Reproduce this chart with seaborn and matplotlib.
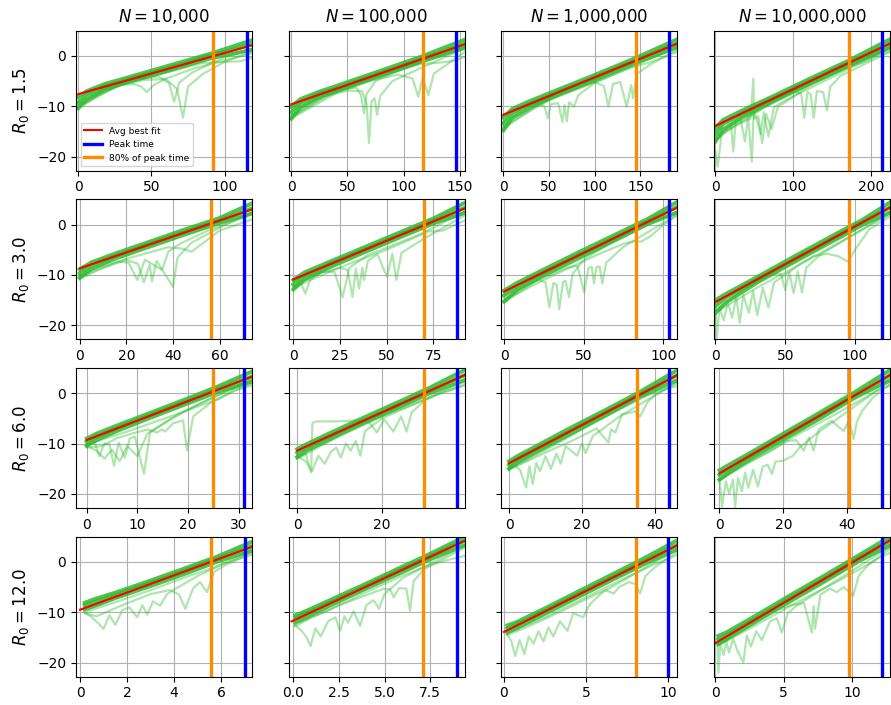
import matplotlib
matplotlib.use("Agg")
import matplotlib.pyplot as plt
import seaborn as sns

# ---------------- labels ----------------
N_LABELS = ["10{,}000", "100{,}000", "1{,}000{,}000", "10{,}000{,}000"]
R0_LABELS = ["1.5", "3.0", "6.0", "12.0"]

# ---------------- axis limits / ticks ----------------
XLIM = [
    [(-1.4, 118.6), (-2.4, 154.4), (-2.2, 190.5), (-1.7, 223.8)],
    [(-1.6, 73.9), (-2.5, 91.8), (-1.7, 108.7), (-0.9, 125.0)],
    [(-2.1, 32.6), (-2.0, 39.5), (-2.1, 46.2), (-1.7, 53.3)],
    [(-0.17, 7.31), (-0.26, 9.4), (-0.16, 10.54), (-0.1, 12.8)],
]
XTICKS = [
    [[0, 50, 100], [0, 50, 100, 150], [0, 50, 100, 150], [0, 100, 200]],
    [[0, 20, 40, 60], [0, 25, 50, 75], [0, 50, 100], [0, 50, 100]],
    [[0, 10, 20, 30], [0, 20], [0, 20, 40], [0, 20, 40]],
    [[0, 2, 4, 6], [0.0, 2.5, 5.0, 7.5], [0, 5, 10], [0, 5, 10]],
]
YLIM = (-22.8, 5.0)
YTICKS = [-20, -10, 0]

# ---------------- peak / 80% of peak times ----------------
PEAK_T = [
    [115.0, 147.0, 181.5, 213.5],
    [70.6, 87.6, 103.7, 119.1],
    [31.1, 37.6, 43.9, 50.7],
    [7.0, 8.97, 10.0, 12.2],
]
P80_T = [
    [91.8, 117.6, 145.1, 170.6],
    [56.4, 69.8, 82.9, 95.4],
    [25.0, 30.0, 35.0, 40.4],
    [5.58, 7.14, 8.0, 9.78],
]

# ---------------- average best-fit lines (end points) ----------------
RED_T = [
    [[0, 118.6], [0, 154.4], [0, 190.5], [0, 223.8]],
    [[0, 73.9], [0, 91.8], [0, 108.7], [0, 125.0]],
    [[0, 32.6], [0, 39.5], [0, 46.2], [0, 53.3]],
    [[0, 7.31], [-0.1, 9.4], [0, 10.54], [0, 12.8]],
]
RED_Y = [
    [[-7.6, 2.1], [-9.62, 2.3], [-11.7, 2.45], [-13.9, 2.45]],
    [[-8.7, 3.0], [-10.9, 3.2], [-13.3, 3.4], [-15.4, 3.4]],
    [[-9.3, 3.3], [-11.4, 3.6], [-13.9, 3.6], [-15.9, 3.6]],
    [[-9.5, 3.0], [-11.8, 4.2], [-13.9, 3.3], [-16.1, 4.3]],
]

# ---------------- simulated log-curves: dense band ----------------
R15_GRID = [
    [0, 6, 18, 35, 60, 90, 118.6],
    [0, 8, 25, 45, 75, 115, 154.4],
    [0, 10, 30, 60, 100, 145, 190.5],
    [0, 10, 35, 70, 120, 170, 223.8],
]
R15_BAND = [
    [[-8.2, -7.0, -5.6, -4.2, -2.1, 0.4, 3.1],
     [-9.3, -7.7, -6.1, -4.6, -2.6, 0.0, 2.3],
     [-10.4, -8.6, -6.7, -5.1, -3.1, -0.5, 1.2]],
    [[-10.1, -8.6, -7.1, -5.6, -3.3, -0.2, 3.2],
     [-11.2, -9.3, -7.6, -6.1, -3.8, -0.7, 2.4],
     [-12.5, -10.2, -8.2, -6.6, -4.3, -1.2, 1.6]],
    [[-12.2, -10.5, -8.9, -6.7, -3.8, -0.4, 3.3],
     [-13.4, -11.3, -9.5, -7.2, -4.3, -0.9, 2.5],
     [-14.8, -12.3, -10.2, -7.7, -4.8, -1.4, 1.7]],
    [[-14.3, -12.7, -10.8, -8.3, -4.6, -1.0, 3.3],
     [-15.5, -13.5, -11.4, -8.8, -5.1, -1.5, 2.5],
     [-17.0, -14.6, -12.1, -9.3, -5.6, -2.0, 1.7]],
]
R30_GRID = [
    [0, 5, 15, 30, 45, 60, 73.9],
    [0, 6, 20, 40, 60, 75, 91.8],
    [0, 8, 25, 50, 75, 90, 108.7],
    [0, 8, 30, 60, 90, 105, 125.0],
]
R30_BAND = [
    [[-8.9, -7.5, -5.8, -3.4, -1.0, 1.3, 4.2],
     [-9.7, -8.0, -6.3, -3.9, -1.5, 0.8, 3.2],
     [-10.6, -8.8, -6.8, -4.4, -2.0, 0.3, 2.2]],
    [[-11.0, -9.5, -7.3, -4.2, -1.1, 1.2, 4.3],
     [-11.9, -10.1, -7.8, -4.7, -1.6, 0.7, 3.3],
     [-12.9, -10.9, -8.4, -5.2, -2.1, 0.2, 2.3]],
    [[-13.1, -11.6, -8.9, -5.0, -1.2, 1.1, 4.5],
     [-14.1, -12.2, -9.5, -5.6, -1.8, 0.6, 3.5],
     [-15.3, -13.0, -10.1, -6.2, -2.3, 0.1, 2.4]],
    [[-15.0, -13.7, -10.4, -5.8, -1.3, 0.9, 4.4],
     [-16.2, -14.4, -10.9, -6.4, -1.9, 0.4, 3.4],
     [-17.6, -15.4, -11.5, -6.9, -2.4, -0.1, 2.4]],
]
R60_GRID = [
    [0, 2, 6, 12, 20, 26, 32.6],
    [0, 2.5, 8, 15, 24, 31, 39.5],
    [0, 2.5, 8, 16, 26, 36, 46.2],
    [0, 3, 10, 20, 32, 42, 53.3],
]
R60_BAND = [
    [[-9.0, -8.0, -6.4, -4.1, -1.0, 1.4, 4.3],
     [-9.6, -8.6, -6.9, -4.6, -1.5, 0.9, 3.3],
     [-10.4, -9.3, -7.5, -5.1, -2.0, 0.3, 2.3]],
    [[-11.1, -10.0, -7.8, -5.1, -1.7, 1.0, 4.6],
     [-11.8, -10.6, -8.4, -5.7, -2.3, 0.4, 3.6],
     [-12.7, -11.3, -9.0, -6.2, -2.8, -0.1, 2.6]],
    [[-13.5, -12.4, -10.3, -7.2, -3.5, 0.3, 4.6],
     [-14.2, -13.0, -10.9, -7.8, -4.0, -0.2, 3.6],
     [-15.0, -13.7, -11.5, -8.4, -4.6, -0.7, 2.6]],
    [[-15.3, -14.2, -11.7, -8.0, -3.6, 0.1, 4.6],
     [-16.2, -15.0, -12.3, -8.6, -4.2, -0.5, 3.6],
     [-17.2, -15.8, -12.9, -9.2, -4.8, -1.0, 2.6]],
]
R120_GRID = [
    [0.2, 0.6, 1.5, 3, 4.5, 5.8, 7.31],
    [0.1, 0.6, 2, 4, 6, 7.5, 9.4],
    [0.2, 0.8, 2.5, 4.5, 6.5, 8.5, 10.54],
    [0.2, 0.8, 3, 5.5, 8, 10.5, 12.8],
]
R120_BAND = [
    [[-8.1, -7.4, -6.1, -3.7, -1.2, 1.0, 4.0],
     [-8.6, -8.0, -6.6, -4.2, -1.7, 0.6, 3.1],
     [-9.4, -8.8, -7.2, -4.8, -2.3, 0.0, 2.2]],
    [[-10.6, -9.9, -7.6, -4.3, -0.9, 1.6, 5.0],
     [-11.1, -10.4, -8.1, -4.8, -1.4, 1.1, 4.2],
     [-12.0, -11.2, -8.7, -5.3, -2.0, 0.5, 3.3]],
    [[-12.6, -11.9, -9.2, -5.9, -2.6, 0.7, 4.3],
     [-13.2, -12.4, -9.7, -6.4, -3.2, 0.1, 3.4],
     [-14.0, -13.1, -10.3, -7.0, -3.7, -0.5, 2.5]],
    [[-14.7, -14.0, -10.6, -6.6, -2.7, 1.3, 5.0],
     [-15.4, -14.6, -11.2, -7.2, -3.3, 0.7, 4.2],
     [-16.3, -15.4, -11.8, -7.8, -3.9, 0.1, 3.3]],
]

# ---------------- simulated log-curves: stray runs (time, value) ----------------
R15_STRAY = [
    [([0, 30, 60, 85, 100, 110, 118.6], [-10.0, -5.6, -3.3, -1.4, -1.2, -1.1, -0.4]),
     ([0, 20, 40, 55, 62, 65.5, 69, 78, 95, 118.6], [-9.6, -6.4, -4.7, -4.1, -5.4, -9.1, -5.3, -3.3, -0.9, 1.5]),
     ([0, 25, 45, 60, 67.5, 71.5, 75, 85, 100, 118.6], [-10.2, -6.1, -4.8, -4.6, -6.6, -12.3, -6.1, -3.6, -1.2, 0.9]),
     ([0, 15, 30, 38, 43, 47, 51, 60, 80, 118.6], [-10.6, -7.6, -5.7, -5.6, -6.1, -7.2, -5.9, -4.5, -2.4, 0.5])],
    [([0, 40, 80, 115, 130, 145, 154.4], [-12.0, -7.0, -4.0, -1.6, -1.4, -1.0, -0.2]),
     ([0, 25, 45, 58, 62, 64.7, 67, 75, 100, 154.4], [-11.8, -8.2, -6.6, -6.3, -7.8, -11.4, -7.6, -5.0, -2.5, 1.8]),
     ([0, 30, 50, 63, 67, 69.2, 71.5, 74, 76.5, 79, 90, 154.4], [-12.2, -8.0, -6.9, -7.0, -9.5, -17.3, -9.0, -8.4, -11.7, -8.0, -5.0, 1.5]),
     ([0, 40, 70, 95, 108, 113, 117, 122, 127, 140, 154.4], [-12.4, -7.4, -5.0, -3.7, -4.5, -8.1, -4.3, -7.8, -3.5, -1.5, 0.8])],
    [([0, 50, 100, 140, 160, 175, 190.5], [-14.0, -8.8, -5.2, -2.3, -1.3, -0.3, 0.8]),
     ([0, 20, 38, 45, 48.5, 52, 60, 64.7, 67, 69.4, 72, 77.3, 82, 100, 190.5],
      [-14.2, -10.3, -9.4, -10.0, -12.4, -9.6, -9.4, -13.1, -9.8, -13.0, -9.2, -10.1, -7.8, -5.4, 1.8]),
     ([0, 40, 80, 100, 110, 115, 120, 128, 135, 140, 142, 146, 160, 190.5],
      [-14.5, -9.4, -6.6, -5.2, -6.0, -10.1, -5.6, -5.2, -10.1, -5.8, -8.4, -3.6, -1.8, 1.2])],
    [([0, 60, 120, 170, 195, 210, 223.8], [-16.5, -10.5, -5.8, -2.3, -1.0, 0.2, 1.0]),
     ([0, 3, 8, 15, 20, 23, 26, 32, 38, 42, 46.7, 49, 52, 58, 62, 68, 75, 90, 223.8],
      [-19, -22, -15.5, -14.5, -13.5, -19, -13.0, -12.5, -17, -12.0, -21, -11.5, -12, -15.5, -11.2, -16, -10.2, -8.8, 1.5]),
     ([0, 15, 30, 45, 48.7, 49.5, 55, 60, 65, 72, 80, 120, 223.8],
      [-17, -14.8, -13.5, -12.5, -4.5, -12.5, -12.0, -17.3, -11.5, -14.5, -10.2, -6.0, 1.8]),
     ([0, 40, 80, 100, 110, 114, 118, 122, 126, 130, 138, 143, 147, 160, 223.8],
      [-16, -12.2, -8.6, -7.0, -7.5, -12.3, -7.2, -7.6, -12.3, -7.0, -7.2, -10.8, -6.2, -4.0, 0.8])],
]
R30_STRAY = [
    [([0, 20, 38, 44, 48, 52, 60, 73.9], [-10.3, -6.8, -4.5, -4.8, -5.4, -4.0, -1.2, 1.0]),
     ([0, 8, 16, 21, 24.7, 28, 35.3, 38, 43, 55, 73.9], [-10.4, -8.5, -7.3, -7.6, -11.0, -7.0, -9.0, -5.4, -3.8, -1.2, 2.0]),
     ([0, 10, 20, 25, 27.5, 30, 31, 33, 40, 42, 48, 60, 73.9],
      [-10.8, -8.6, -7.0, -7.8, -11.5, -8.0, -11.3, -7.2, -12.4, -6.5, -3.6, -0.6, 2.4])],
    [([0, 25, 50, 65, 72, 80, 91.8], [-12.5, -8.5, -5.0, -2.6, -1.4, -1.2, 0.8]),
     ([0, 4, 6.4, 9, 15, 22, 26.4, 30, 40, 50, 70, 91.8],
      [-12.8, -11.5, -13.7, -11.0, -9.4, -9.4, -14.4, -8.6, -6.0, -4.6, -1.6, 2.6]),
     ([0, 12, 25, 29, 31.7, 33.5, 35.2, 37, 37.8, 40, 45, 50.2, 53, 55.2, 58, 70, 91.8],
      [-12.4, -9.8, -8.6, -9.0, -14.4, -8.8, -12.7, -8.6, -11.0, -7.2, -5.9, -10.4, -5.8, -11.0, -5.6, -2.8, 1.8])],
    [([0, 30, 60, 75, 82, 86, 92, 100, 108.7], [-15.0, -10.2, -5.8, -3.8, -3.3, -3.4, -2.3, 0.0, 1.8]),
     ([0, 12, 22, 26, 28.4, 31, 33, 34.6, 37, 38.5, 40.8, 43, 50, 70, 108.7],
      [-15.2, -12.3, -11.0, -11.5, -16.4, -11.6, -12.0, -16.8, -11.4, -11.2, -14.4, -9.8, -7.0, -3.0, 2.6]),
     ([0, 20, 40, 46, 50.2, 53, 55, 56.4, 58, 60, 61.6, 64, 75, 108.7],
      [-15.5, -11.2, -8.5, -8.2, -13.4, -8.6, -8.4, -11.7, -8.4, -8.4, -11.7, -7.6, -4.4, 2.0])],
    [([0, 1, 3, 6, 9, 12, 15, 17.5, 20, 24, 27, 30, 34, 38, 42, 48, 60, 125],
      [-16, -22.5, -16.5, -19, -15.5, -18.5, -14.5, -19.5, -14.0, -17.5, -13.2, -18, -12.5, -16.5, -11.5, -10.4, -8.0, 2.0]),
     ([0, 20, 40, 47, 50, 53, 56, 59, 62, 65, 75, 125],
      [-17, -13.0, -9.8, -9.8, -13.0, -9.6, -13.6, -9.3, -13.5, -8.6, -6.0, 2.4]),
     ([0, 30, 55, 70, 80, 88, 95, 100, 110, 125],
      [-17.5, -12.5, -8.8, -6.3, -5.8, -6.3, -7.4, -5.0, -1.0, 1.6])],
]
R60_STRAY = [
    [([0, 8, 16, 22, 26, 29, 32.6], [-10.2, -7.6, -4.8, -2.6, -1.2, 0.6, 1.5]),
     ([0, 1.5, 2.5, 3.5, 4.5, 5.4, 6.3, 7.5, 8.5, 9.5, 11.3, 12.5, 16, 22, 32.6],
      [-10.6, -9.6, -12.5, -10.0, -10.2, -14.4, -9.8, -12.8, -9.0, -8.6, -16.0, -7.8, -5.5, -2.2, 2.6]),
     ([0, 3, 6, 9, 12, 13.9, 14.8, 15.5, 17, 19, 19.8, 21, 25, 32.6],
      [-10.8, -10.5, -8.9, -8.0, -7.2, -7.8, -7.2, -7.6, -6.0, -5.4, -11.4, -4.6, -1.5, 2.0]),
     ([0, 2, 3.5, 5, 6.5, 8, 10, 12, 18, 32.6],
      [-10.4, -11.5, -13.0, -11.2, -13.5, -10.5, -12.5, -8.0, -4.2, 2.9])],
    [([0, 2, 3.3, 3.6, 4.5, 8, 12, 15, 17, 18.8, 20.5, 22.7, 24.5, 25.8, 27, 30, 34, 39.5],
      [-12.5, -12.0, -15.7, -5.9, -5.6, -5.6, -5.5, -5.3, -5.8, -7.8, -5.2, -7.6, -4.6, -7.6, -3.8, -1.5, 0.2, 1.5]),
     ([0, 2, 3.5, 5, 6.5, 8, 9.2, 10.3, 11.5, 12.6, 13.8, 14.9, 16, 20, 39.5],
      [-12.5, -13.5, -15.5, -12.4, -14.0, -11.6, -10.8, -12.8, -10.0, -11.4, -9.5, -12.4, -7.5, -5.0, 2.3]),
     ([0, 10, 20, 28, 32, 36, 39.5], [-13.0, -8.5, -4.6, -2.0, -0.6, 0.5, 1.8])],
    [([0, 1.5, 3, 4.7, 5.6, 6.5, 7.5, 8.5, 10, 11.5, 13, 14.2, 15.5, 18.7, 20, 21, 23, 30, 46.2],
      [-14.8, -14.3, -15.2, -18.7, -14.5, -18.0, -13.8, -15.5, -12.5, -15.0, -12.0, -14.0, -10.5, -12.4, -10.0, -11.9, -8.5, -4.8, 2.3]),
     ([0, 5, 10, 18, 24, 27.3, 28, 29.2, 31, 33.7, 34.5, 36, 38, 40, 46.2],
      [-15.0, -13.5, -11.8, -9.2, -7.0, -9.8, -7.2, -7.8, -4.2, -3.8, -3.6, -4.6, -1.8, -0.4, 2.0]),
     ([0, 12, 24, 32, 38, 42, 46.2], [-15.2, -10.5, -5.6, -2.6, -0.4, 0.6, 1.4])],
    [([0, 0.8, 2, 3, 4.2, 4.9, 5.8, 7, 8, 9, 10.5, 12, 13.5, 15, 16.4, 17.5, 20, 23, 25, 30, 53.3],
      [-17, -22.5, -17.5, -20, -17.2, -22.6, -16.8, -19.5, -15.8, -18.8, -15.2, -18.5, -14.6, -14.2, -16.0, -13.6, -13.4, -12.4, -10.8, -8.2, 2.4]),
     ([0, 8, 16, 21, 24, 26.3, 28, 29.4, 31, 35, 38.8, 40.5, 41.9, 43, 44.5, 48, 53.3],
      [-17.0, -14.0, -11.5, -9.5, -9.3, -11.4, -8.8, -11.4, -7.2, -5.5, -7.5, -5.4, -9.1, -5.6, -3.6, -0.8, 1.8]),
     ([0, 12, 25, 35, 44, 49, 53.3], [-17.2, -12.8, -8.0, -4.6, -1.4, 0.4, 1.6])],
]
R120_STRAY = [
    [([0.2, 1.5, 3, 4.5, 5.5, 6.3, 7.31], [-10.0, -8.0, -5.6, -3.0, -1.4, 0.0, 1.4]),
     ([0.2, 0.5, 0.8, 1.0, 1.25, 1.5, 1.8, 2.1, 2.43, 2.65, 2.86, 3.1, 3.4, 3.7, 4.0, 5.0, 7.31],
      [-10.0, -11.0, -12.3, -13.3, -10.6, -12.5, -9.6, -9.0, -11.0, -8.6, -10.5, -7.8, -8.7, -6.4, -5.5, -2.8, 2.2]),
     ([0.2, 0.7, 1.2, 2.0, 3.0, 3.8, 4.2, 4.48, 4.8, 5.1, 5.4, 5.7, 6.2, 7.31],
      [-10.2, -10.8, -9.8, -8.2, -6.4, -5.6, -6.4, -9.3, -5.3, -4.0, -6.0, -2.0, -0.6, 1.8])],
    [([0.1, 2, 4, 6, 7.5, 8.5, 9.4], [-12.4, -9.5, -6.0, -2.7, -0.6, 0.4, 1.2]),
     ([0.1, 0.4, 0.7, 0.94, 1.2, 1.5, 1.9, 2.3, 2.57, 2.8, 3.0, 3.3, 3.66, 4.0, 4.4, 4.7, 5.0, 6.0, 9.4],
      [-12.6, -13.5, -14.8, -16.7, -13.2, -14.8, -11.8, -11.0, -13.7, -10.8, -12.1, -9.8, -12.7, -8.6, -7.6, -9.3, -6.4, -3.2, 3.2]),
     ([0.1, 1.0, 2.5, 4.0, 4.9, 5.3, 5.5, 5.8, 6.2, 6.4, 6.6, 7.2, 9.4],
      [-12.8, -11.0, -8.6, -6.6, -5.4, -5.4, -7.0, -5.2, -5.3, -9.7, -3.8, -1.4, 2.8])],
    [([0.2, 2.5, 5, 7.5, 9, 10, 10.54], [-14.2, -11.0, -7.0, -3.0, -0.7, 0.6, 1.4]),
     ([0.2, 0.45, 0.68, 0.95, 1.24, 1.5, 1.8, 2.1, 2.4, 2.7, 3.0, 3.4, 3.86, 4.2, 4.82, 5.2, 6.0, 10.54],
      [-14.2, -15.8, -18.7, -15.5, -18.3, -14.8, -16.2, -13.8, -15.8, -13.0, -14.8, -11.8, -13.7, -10.2, -11.0, -8.5, -6.0, 2.5]),
     ([0.2, 1.5, 3.5, 5.5, 6.2, 6.66, 7.0, 7.6, 8.0, 8.27, 8.6, 9.2, 10.54],
      [-14.5, -12.8, -9.8, -6.6, -5.6, -6.3, -5.0, -4.0, -4.4, -6.3, -2.8, -1.0, 2.0])],
    [([0.15, 0.22, 0.35, 0.6, 0.8, 1.0, 1.3, 1.6, 2.05, 2.3, 2.6, 3.0, 3.4, 4.0, 4.5, 4.86, 5.3, 6.0, 12.8],
      [-16.0, -22.0, -16.2, -18.5, -15.8, -18.0, -15.3, -17.5, -20.0, -14.6, -16.8, -13.8, -15.5, -11.8, -11.2, -14.0, -10.2, -8.6, 3.0]),
     ([0.2, 2, 4, 5.5, 6.5, 7.06, 7.2, 7.3, 7.7, 8.4, 8.9, 9.4, 10.1, 10.5, 11.2, 12.8],
      [-16.5, -13.0, -10.0, -8.6, -8.2, -14.0, -8.8, -13.3, -6.5, -5.3, -6.0, -5.0, -6.7, -2.8, -0.6, 2.6]),
     ([0.2, 3, 6, 9, 11, 12, 12.8], [-16.6, -12.5, -8.0, -3.8, -0.8, 0.8, 1.8])],
]

GRIDS = [R15_GRID, R30_GRID, R60_GRID, R120_GRID]
BANDS = [R15_BAND, R30_BAND, R60_BAND, R120_BAND]
STRAYS = [R15_STRAY, R30_STRAY, R60_STRAY, R120_STRAY]

GREEN = "#2dbb2d"

fig, axes = plt.subplots(4, 4, figsize=(8.91, 7.05), dpi=100, sharey=True)
fig.subplots_adjust(left=0.0853, right=0.9989, bottom=0.0401, top=0.9565,
                    wspace=0.2086, hspace=0.2048)

for r in range(4):
    for c in range(4):
        ax = axes[r, c]
        ax.set_axisbelow(True)
        ax.grid(True, color="#b0b0b0", linewidth=0.8)
        # stray runs
        for xs, ys in STRAYS[r][c]:
            sns.lineplot(x=xs, y=ys, ax=ax, color=GREEN, alpha=0.38, linewidth=1.6,
                         sort=False, estimator=None)
        # dense band
        for ys in BANDS[r][c]:
            sns.lineplot(x=GRIDS[r][c], y=ys, ax=ax, color=GREEN, alpha=0.85, linewidth=2.8,
                         sort=False, estimator=None)
        # best-fit
        sns.lineplot(x=RED_T[r][c], y=RED_Y[r][c], ax=ax, color="red", linewidth=1.5,
                     sort=False, estimator=None,
                     label="Avg best fit" if (r == 0 and c == 0) else None)
        ax.axvline(PEAK_T[r][c], color="blue", linewidth=2.4,
                   label="Peak time" if (r == 0 and c == 0) else None)
        ax.axvline(P80_T[r][c], color="darkorange", linewidth=2.4,
                   label="80% of peak time" if (r == 0 and c == 0) else None)

        ax.set_xlim(*XLIM[r][c])
        ax.set_xticks(XTICKS[r][c])
        ax.set_ylim(*YLIM)
        ax.set_yticks(YTICKS)
        ax.tick_params(labelsize=10)
        ax.set_xlabel("")
        ax.set_ylabel("")
        if r == 0:
            ax.set_title(f"$N = {N_LABELS[c]}$", fontsize=12)
        if c == 0:
            ax.set_ylabel(f"$R_0 = {R0_LABELS[r]}$", fontsize=12)
        if not (r == 0 and c == 0):
            leg = ax.get_legend()
            if leg is not None:
                leg.remove()

axes[0, 0].legend(loc="lower left", fontsize=6.5)

fig.savefig("out.png", dpi=100)
